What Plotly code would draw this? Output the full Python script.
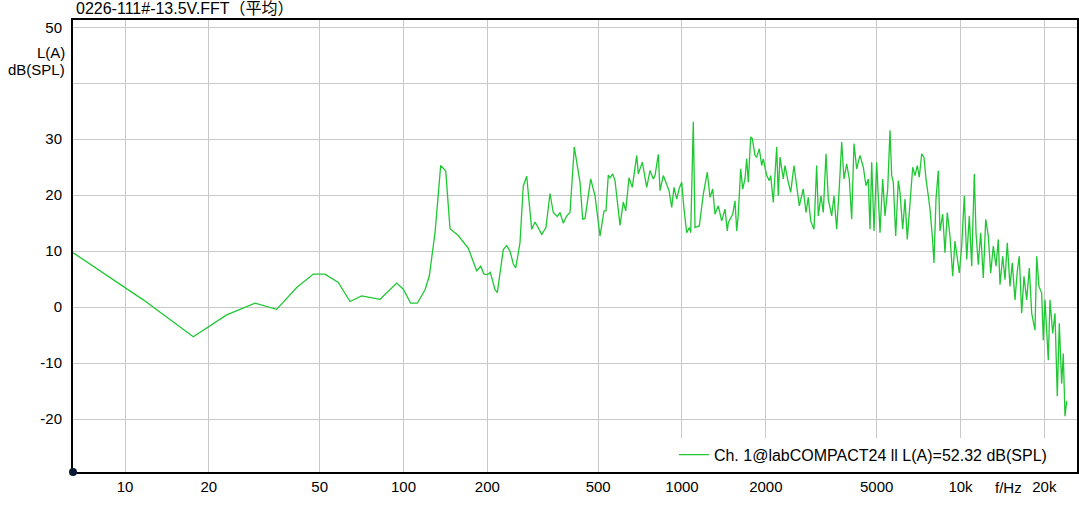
import plotly.graph_objects as go

# ---- data (frequency in Hz, level in dB(SPL)) ----
freq_hz = [
    6.52, 11.63, 17.59, 23.18, 29.30, 35.05, 41.35, 47.45, 52.26, 58.33,
    64.27, 70.77, 82.35, 94.53, 99.84, 106.1, 112.1, 119.5, 123.8, 129.8,
    136.0, 141.8, 146.9, 157.3, 170.9, 183.1, 189.3, 194.5, 200.0, 205.0,
    213.1, 217.2, 228.2, 234.8, 241.2, 247.9, 252.9, 262.0, 269.2, 276.9,
    288.6, 296.6, 302.3, 313.5, 324.8, 335.7, 345.0, 356.6, 364.7, 374.8,
    385.5, 396.2, 410.5, 430.3, 440.0, 448.5, 470.1, 487.1, 507.7, 524.8,
    533.5, 543.7, 551.4, 563.9, 574.7, 599.0, 615.6, 627.9, 645.3, 663.1,
    687.7, 696.9, 720.3, 746.9, 767.6, 788.9, 800.0, 822.2, 833.8, 856.9,
    898.3, 918.5, 936.2, 957.2, 975.6, 997.6, 1016.7, 1039.7, 1062.3, 1074.7,
    1098.0, 1113.6, 1153.9, 1192.7, 1232.8, 1260.6, 1289.1, 1313.8, 1350.1, 1388.6,
    1427.0, 1454.4, 1466.4, 1520.8, 1550.0, 1571.9, 1592.8, 1624.7, 1651.8, 1683.5,
    1707.3, 1730.1, 1764.7, 1788.3, 1828.7, 1854.5, 1894.9, 1932.8, 1958.6, 2014.4,
    2058.1, 2082.1, 2127.3, 2188.0, 2217.1, 2248.5, 2310.7, 2343.4, 2408.2, 2456.5,
    2524.4, 2581.4, 2637.5, 2726.2, 2787.7, 2841.2, 2898.2, 2978.4, 3045.6, 3086.2,
    3155.8, 3216.4, 3289.1, 3352.2, 3447.8, 3514.0, 3593.3, 3671.4, 3745.0, 3817.0,
    3903.1, 3987.9, 4067.8, 4146.0, 4239.5, 4356.7, 4477.2, 4578.3, 4666.1, 4732.2,
    4799.2, 4891.3, 5001.6, 5140.1, 5256.1, 5357.0, 5477.9, 5583.1, 5662.1, 5737.5,
    5852.5, 5979.6, 6064.3, 6201.2, 6320.2, 6441.6, 6587.1, 6735.7, 6865.0, 6997.0,
    7113.6, 7256.1, 7395.1, 7518.3, 7662.7, 7771.0, 7920.3, 8032.3, 8166.1, 8322.9,
    8440.9, 8631.3, 8797.0, 8966.0, 9168.4, 9375.3, 9555.3, 9738.8, 9901.4, 10101,
    10320, 10527, 10756, 10971, 11210, 11368, 11586, 11819, 12076, 12318,
    12585, 12837, 13116, 13412, 13669, 13862, 14175, 14447, 14725, 15057,
    15346, 15693, 15994, 16261, 16587, 16905, 17286, 17662, 18016, 18515,
    18776, 19137, 19569, 19829, 20110, 20666, 20958, 21431, 21842, 22262,
    22633, 23087, 23395, 23726, 24061,
]
level_db = [
    9.7, 1.3, -5.3, -1.4, 0.7, -0.4, 3.5, 5.9, 5.9, 4.4,
    1.0, 2.0, 1.4, 4.3, 3.2, 0.7, 0.7, 3.1, 5.6, 13.3,
    25.3, 24.3, 14.0, 12.8, 10.5, 6.5, 7.3, 5.9, 5.8, 6.2,
    3.1, 2.6, 10.3, 11.0, 10.0, 7.7, 7.0, 11.5, 21.6, 23.4,
    13.9, 15.2, 14.5, 13.0, 14.2, 20.3, 16.9, 16.2, 16.9, 15.0,
    16.3, 16.9, 28.6, 22.3, 15.7, 15.8, 22.9, 19.9, 12.7, 17.2,
    17.2, 23.6, 23.1, 23.8, 22.6, 14.6, 18.8, 17.2, 23.1, 21.4,
    27.1, 23.8, 25.9, 21.4, 24.4, 22.9, 23.5, 27.3, 20.8, 23.5,
    20.8, 17.8, 21.4, 19.3, 21.1, 22.3, 17.5, 13.3, 14.2, 13.3,
    33.1, 14.2, 14.5, 20.2, 24.1, 19.6, 21.1, 16.6, 18.1, 15.4,
    17.5, 13.6, 15.1, 16.6, 19.0, 13.6, 16.6, 24.7, 21.1, 22.9,
    26.5, 22.3, 30.4, 30.1, 27.1, 26.8, 28.3, 25.3, 26.5, 23.5,
    22.6, 23.5, 18.7, 28.6, 19.9, 26.8, 22.9, 25.3, 22.3, 20.5,
    25.3, 21.1, 18.1, 21.1, 16.9, 19.6, 15.4, 13.9, 25.3, 16.3,
    19.9, 16.9, 27.4, 19.3, 16.3, 19.9, 13.9, 21.4, 29.5, 22.9,
    25.6, 22.9, 15.7, 29.2, 24.7, 27.1, 25.0, 21.7, 22.9, 13.9,
    25.9, 13.6, 25.9, 13.3, 22.9, 16.3, 21.1, 31.6, 23.5, 22.3,
    12.7, 22.6, 20.5, 13.9, 19.3, 12.1, 19.3, 25.0, 23.5, 25.3,
    23.2, 27.4, 26.8, 22.9, 19.9, 17.5, 12.7, 7.9, 19.3, 24.4,
    13.6, 16.6, 9.7, 16.9, 12.7, 5.5, 11.8, 9.1, 6.1, 10.9,
    19.9, 8.5, 16.3, 7.3, 23.8, 13.3, 7.6, 13.3, 5.2, 15.7,
    12.7, 6.1, 10.9, 7.3, 12.1, 4.0, 9.1, 4.9, 11.5, 3.7,
    7.9, 1.3, 6.4, 9.1, -1.1, 5.5, 1.3, 7.0, -1.1, -4.1,
    9.1, 3.7, 2.5, -5.9, 1.3, -9.5, 1.3, -4.7, -1.1, -15.9,
    -2.9, -13.7, -8.3, -19.5, -16.8,
]

x_tick_vals = [10, 20, 50, 100, 200, 500, 1000, 2000, 5000, 10000, 20000]
x_tick_text = ["10", "20", "50", "100", "200", "500", "1000", "2000", "5000", "10k", "20k"]
y_tick_vals = [-20, -10, 0, 10, 20, 30, 40, 50]
y_tick_text = ["-20", "-10", "0", "10", "20", "30", "", "50"]

title_text = "0226-111#-13.5V.FFT（平均）"
series_name = "Ch. 1@labCOMPACT24 ll L(A)=52.32 dB(SPL)"

FONT = "Liberation Sans, Arial, Noto Sans CJK SC, sans-serif"
GREEN = "#1ec832"

fig = go.Figure()
fig.add_trace(go.Scatter(
    x=freq_hz, y=level_db, mode="lines", name=series_name,
    line=dict(color=GREEN, width=1.3),
))

fig.update_layout(
    width=1079, height=506,
    margin=dict(l=73, r=2, t=20, b=34, autoexpand=False),
    paper_bgcolor="white", plot_bgcolor="white",
    font=dict(family=FONT, size=15, color="#000000"),
    title=dict(text=title_text, x=76 / 1079, xanchor="left", xref="container",
               y=1 - 8 / 506, yanchor="middle", yref="container",
               font=dict(family=FONT, size=16, color="#000000")),
    showlegend=True,
    legend=dict(x=0.975, xanchor="right", y=0.038, yanchor="middle",
                bgcolor="white", borderwidth=0,
                font=dict(family=FONT, size=16, color="#000000")),
    xaxis=dict(type="log", range=[0.81329, 4.41835], automargin=False,
               tickvals=x_tick_vals, ticktext=x_tick_text,
               showgrid=True, gridcolor="#c8c8c8", gridwidth=1,
               showline=True, linecolor="#000000", linewidth=2, mirror=True,
               ticks="", zeroline=False),
    yaxis=dict(range=[-29.46, 51.3], automargin=False,
               tickvals=y_tick_vals, ticktext=y_tick_text,
               showgrid=True, gridcolor="#c8c8c8", gridwidth=1,
               showline=True, linecolor="#000000", linewidth=2, mirror=True,
               ticks="", zeroline=False, ticklabelstandoff=6),
    annotations=[
        dict(text="L(A)", xref="paper", yref="paper", x=-6 / 1004, xanchor="right",
             y=(472 - 53) / 452, yanchor="middle", showarrow=False,
             font=dict(family=FONT, size=15, color="#000000")),
        dict(text="dB(SPL)", xref="paper", yref="paper", x=-6 / 1004, xanchor="right",
             y=(472 - 70) / 452, yanchor="middle", showarrow=False,
             font=dict(family=FONT, size=15, color="#000000")),
        dict(text="f/Hz", xref="paper", yref="paper", x=(1008 - 73) / 1004, xanchor="center",
             y=-(487 - 472) / 452, yanchor="middle", showarrow=False,
             font=dict(family=FONT, size=15, color="#000000")),
    ],
    shapes=[
        dict(type="circle", xref="paper", yref="paper", xsizemode="pixel", ysizemode="pixel",
             xanchor=0, yanchor=0, x0=-4, x1=4, y0=-4, y1=4,
             fillcolor="#0b1a33", line=dict(color="#0b1a33", width=0)),
    ],
)

fig.write_html(
    "out.html",
    config={"responsive": False, "displayModeBar": False},
    post_script=(
        "document.body.style.margin='0';document.body.style.padding='0';"
        "Plotly.relayout(document.getElementById('{plot_id}'), {width:1079, height:506});"
    ),
)
